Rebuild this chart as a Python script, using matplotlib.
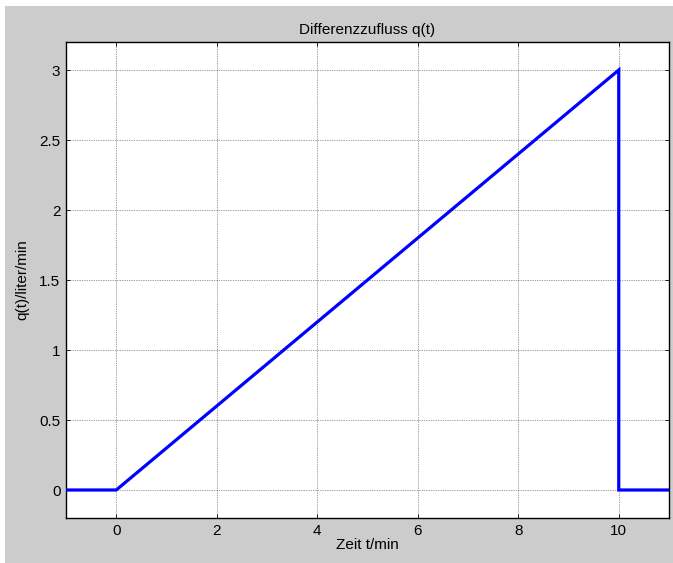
import matplotlib
matplotlib.use("Agg")
import matplotlib.pyplot as plt
from matplotlib.patches import Rectangle

t = [-1, 0, 10, 10, 11]
q = [0, 0, 3, 0, 0]
xticks = [0, 2, 4, 6, 8, 10]
yticks = [0, 0.5, 1, 1.5, 2, 2.5, 3]
ytick_labels = ["0", "0.5", "1", "1.5", "2", "2.5", "3"]

plt.rcParams['font.family'] = ['Liberation Sans', 'DejaVu Sans']
W, H = 673, 563
fig = plt.figure(figsize=(W / 100, H / 100), dpi=100, facecolor='white')
fig.patches.append(Rectangle((5 / W, 0), 1 - 5 / W, 1 - 6 / H, transform=fig.transFigure,
                             facecolor='#cccccc', edgecolor='none', zorder=-10))

ax = fig.add_axes([66 / W, 45 / H, (669 - 66) / W, (518 - 42) / H])
ax.set_facecolor('white')
ax.plot(t, q, color='#0000ff', linewidth=2.3, solid_joinstyle='miter', zorder=3)
ax.set_xlim(-1, 11)
ax.set_ylim(-0.2, 3.2)
ax.set_xticks(xticks)
ax.set_yticks(yticks)
ax.set_yticklabels(ytick_labels)
ax.grid(True, color='#444444', linestyle=(0, (1, 1.5)), linewidth=0.5)
ax.tick_params(direction='in', length=3, width=0.6, labelsize=11, top=True, right=True,
               colors='black', pad=4)
for s in ax.spines.values():
    s.set_linewidth(1.0)
    s.set_color('black')
ax.set_title('Differenzzufluss q(t)', fontsize=11, pad=6)
ax.set_xlabel('Zeit t/min', fontsize=11, labelpad=0)
ax.set_ylabel('q(t)/liter/min', fontsize=11, labelpad=7)

fig.savefig('out.png', dpi=100, facecolor=fig.get_facecolor())
